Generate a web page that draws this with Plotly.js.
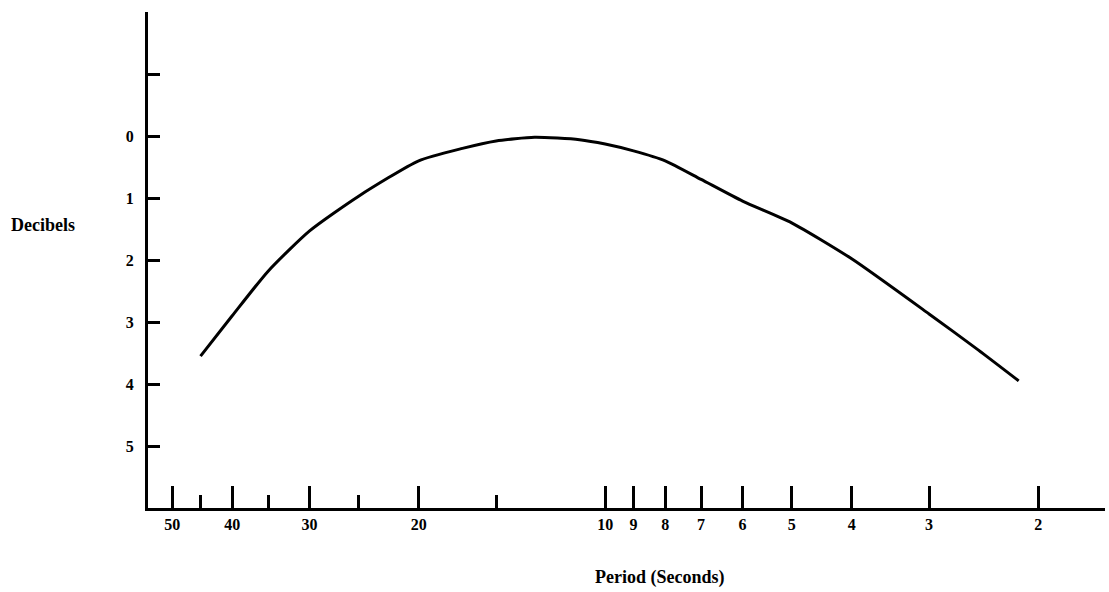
<!DOCTYPE html><html><head><script src="https://cdn.plot.ly/plotly-3.0.1.min.js"></script></head><body style="margin:0"><div id="c" style="width:1109px;height:592px"></div><script>
const periods=[45,40,35,30,25,20,17,15,13,11,10,9,8,7,6,5,4,3,2.5,2.15];
const decibels=[3.55,2.9,2.18,1.53,0.97,0.4,0.2,0.08,0.02,0.06,0.13,0.24,0.4,0.7,1.05,1.4,1.98,2.87,3.45,3.95];
const xMajor=[50,40,30,20,10,9,8,7,6,5,4,3,2];
const xMinor=[45,35,25,15];
const yTicks=[-2,-1,0,1,2,3,4,5];
const yLabels=['','','0','1','2','3','4','5'];
const f={family:'Liberation Serif',size:16,color:'#000'};
Plotly.newPlot('c',[{x:periods,y:decibels,mode:'lines',line:{color:'#000',width:3,shape:'spline',smoothing:0.6}}],{
width:1109,height:592,margin:{l:148,r:4,t:12,b:84},showlegend:false,
plot_bgcolor:'#fff',paper_bgcolor:'#fff',
xaxis:{type:'log',range:[Math.log10(54.7),Math.log10(1.56)],showgrid:false,zeroline:false,showline:true,linecolor:'#000',linewidth:3,
 tickmode:'array',tickvals:xMajor,ticktext:xMajor.map(String),ticks:'inside',ticklen:22,tickwidth:3,tickcolor:'#000',tickfont:{...f,weight:'bold'},
 minor:{tickmode:'array',tickvals:xMinor,ticks:'inside',ticklen:13,tickwidth:3,tickcolor:'#000'}},
yaxis:{range:[6.0,-2.0],showgrid:false,zeroline:false,showline:true,linecolor:'#000',linewidth:3,
 tickmode:'array',tickvals:yTicks,ticktext:yLabels,ticks:'inside',ticklen:12,tickwidth:3,tickcolor:'#000',tickfont:{...f,weight:'bold'},ticklabelstandoff:8},
annotations:[{xref:'paper',yref:'paper',x:-0.145,y:0.57,xanchor:'left',text:'<b>Decibels</b>',showarrow:false,font:{...f,size:18}},
{xref:'paper',yref:'paper',x:0.535,y:-0.115,yanchor:'top',text:'<b>Period (Seconds)</b>',showarrow:false,font:{...f,size:18}}]
},{staticPlot:true});
</script></body></html>
